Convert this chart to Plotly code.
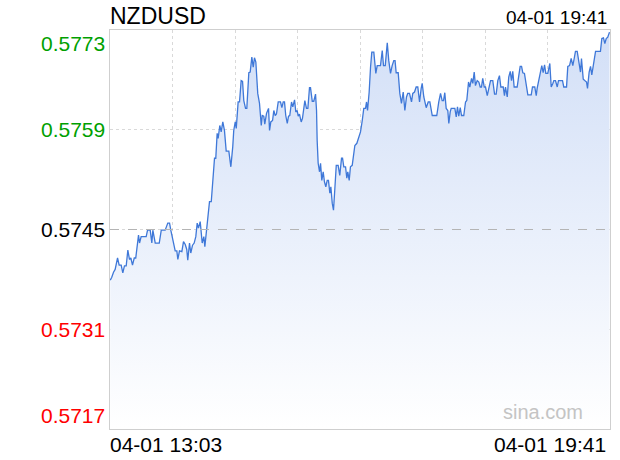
import numpy as np
import pandas as pd
import plotly.graph_objects as go

# sina-style intraday palette
LINE = "#3f78d8"
FILL_TOP = "#d2dff7"
GRID = "#d9d9d9"
BORDER = "#cfcfcf"
UP = "#00a000"
DOWN = "#ff0000"
FONT = "Liberation Sans, Arial, sans-serif"

symbol = "NZDUSD"
day = "04-01"
open_time = "13:03"
last_time = "19:41"
prev_close = 0.5745

y_ticks = [0.5773, 0.5759, 0.5745, 0.5731, 0.5717]
y_tick_text = ["0.5773", "0.5759", "0.5745", "0.5731", "0.5717"]

# minutes after 13:03
minutes = [
    0.2, 1.4, 2.8, 4.1, 6.0, 7.3, 8.9, 10.2, 11.5, 12.9,
    14.2, 15.5, 16.6, 17.9, 19.3, 20.5, 22.7, 23.5, 24.8, 28.8,
    29.9, 32.0, 33.3, 34.1, 36.0, 39.2, 40.8, 43.9, 46.0, 47.4,
    48.4, 50.0, 51.9, 53.2, 54.0, 55.3, 57.2, 58.5, 59.9, 61.1,
    61.9, 63.3, 64.3, 65.7, 67.0, 68.3, 69.4, 70.4, 71.8, 73.4,
    74.7, 75.5, 76.8, 78.2, 79.2, 80.6, 81.8, 83.2, 84.2, 85.3,
    86.1, 87.4, 88.5, 89.8, 91.1, 92.5, 94.6, 96.2, 97.7, 98.5,
    99.7, 100.5, 102.0, 103.1, 104.4, 105.5, 106.5, 107.9, 108.9, 110.5,
    111.6, 112.9, 114.0, 115.0, 116.1, 117.6, 119.0, 120.4, 121.2, 122.4,
    123.2, 124.6, 126.2, 127.0, 128.0, 129.4, 130.4, 131.5, 132.5, 133.9,
    135.7, 136.8, 137.9, 138.9, 139.9, 141.1, 142.1, 143.1, 144.5, 145.5,
    146.9, 147.9, 149.0, 149.8, 150.8, 152.2, 153.2, 154.3, 155.1, 156.4,
    157.5, 158.8, 159.6, 161.0, 162.2, 163.6, 164.4, 164.9, 165.7, 166.8,
    167.6, 168.6, 169.7, 170.7, 171.8, 172.9, 173.9, 175.0, 175.8, 176.9,
    177.9, 178.9, 180.1, 181.6, 182.9, 184.3, 185.1, 186.1, 187.5, 188.5,
    189.3, 190.4, 191.4, 192.8, 194.1, 194.9, 196.5, 197.8, 199.4, 200.8,
    202.0, 203.4, 204.2, 205.0, 206.3, 207.4, 208.4, 210.0, 211.6, 212.7,
    215.3, 216.7, 217.7, 219.1, 220.7, 221.9, 223.3, 224.6, 225.9, 226.9,
    227.8, 229.4, 230.7, 232.0, 233.4, 234.7, 236.0, 237.0, 238.4, 240.0,
    241.0, 242.4, 243.7, 245.0, 246.4, 247.7, 248.5, 249.8, 251.7, 253.3,
    254.6, 256.5, 260.1, 261.7, 263.1, 264.4, 265.5, 266.5, 267.6, 268.9,
    269.7, 270.8, 271.6, 274.5, 275.6, 276.6, 277.6, 278.8, 279.8, 281.6,
    283.0, 284.0, 285.4, 286.4, 287.8, 288.8, 289.9, 290.9, 292.3, 293.6,
    294.7, 295.7, 296.7, 297.9, 298.9, 300.3, 301.5, 302.9, 304.7, 306.1,
    307.4, 308.7, 310.0, 311.1, 313.0, 314.0, 314.8, 316.2, 317.4, 318.6,
    319.6, 320.6, 321.7, 324.1, 325.4, 326.5, 327.6, 328.6, 329.9, 331.0,
    332.6, 335.3, 336.3, 338.1, 339.3, 340.0, 341.3, 342.7, 343.7, 344.8,
    345.9, 346.9, 348.5, 350.1, 351.2, 352.5, 353.3, 354.6, 356.0, 357.0,
    360.2, 361.2, 363.4, 364.4, 365.8, 367.1, 368.4, 369.5, 370.5, 371.9,
    373.2, 374.5, 375.3, 376.7, 377.9, 379.3, 380.1, 381.4, 382.5, 383.5,
    384.6, 386.5, 390.4, 391.5, 392.8, 393.9, 395.0, 396.2, 397.6,
]

price = [
    0.57379, 0.57383, 0.57390, 0.57394, 0.57410, 0.57400, 0.57400, 0.57389, 0.57399, 0.57399,
    0.57421, 0.57408, 0.57410, 0.57400, 0.57410, 0.57410, 0.57442, 0.57431, 0.57440, 0.57440,
    0.57449, 0.57449, 0.57431, 0.57449, 0.57431, 0.57431, 0.57449, 0.57449, 0.57459, 0.57459,
    0.57449, 0.57435, 0.57420, 0.57420, 0.57408, 0.57420, 0.57419, 0.57433, 0.57429, 0.57422,
    0.57407, 0.57431, 0.57417, 0.57428, 0.57431, 0.57440, 0.57459, 0.57452, 0.57461, 0.57431,
    0.57440, 0.57426, 0.57449, 0.57477, 0.57489, 0.57489, 0.57515, 0.57550, 0.57550, 0.57585,
    0.57578, 0.57596, 0.57587, 0.57601, 0.57589, 0.57560, 0.57560, 0.57538, 0.57566, 0.57589,
    0.57601, 0.57592, 0.57629, 0.57629, 0.57659, 0.57658, 0.57631, 0.57620, 0.57620, 0.57670,
    0.57671, 0.57692, 0.57678, 0.57691, 0.57685, 0.57641, 0.57627, 0.57596, 0.57610, 0.57609,
    0.57598, 0.57613, 0.57620, 0.57589, 0.57601, 0.57603, 0.57617, 0.57610, 0.57612, 0.57629,
    0.57629, 0.57621, 0.57629, 0.57629, 0.57610, 0.57599, 0.57609, 0.57610, 0.57629, 0.57622,
    0.57632, 0.57615, 0.57617, 0.57609, 0.57612, 0.57601, 0.57606, 0.57622, 0.57631, 0.57620,
    0.57620, 0.57649, 0.57649, 0.57630, 0.57630, 0.57640, 0.57617, 0.57575, 0.57543, 0.57531,
    0.57543, 0.57519, 0.57531, 0.57517, 0.57510, 0.57519, 0.57519, 0.57501, 0.57510, 0.57487,
    0.57477, 0.57505, 0.57540, 0.57540, 0.57526, 0.57550, 0.57550, 0.57538, 0.57538, 0.57522,
    0.57531, 0.57519, 0.57538, 0.57540, 0.57559, 0.57568, 0.57571, 0.57580, 0.57587, 0.57603,
    0.57620, 0.57620, 0.57629, 0.57617, 0.57643, 0.57678, 0.57699, 0.57699, 0.57669, 0.57680,
    0.57680, 0.57701, 0.57680, 0.57680, 0.57712, 0.57687, 0.57669, 0.57680, 0.57687, 0.57687,
    0.57670, 0.57670, 0.57641, 0.57627, 0.57643, 0.57617, 0.57636, 0.57641, 0.57641, 0.57629,
    0.57641, 0.57643, 0.57650, 0.57650, 0.57629, 0.57648, 0.57655, 0.57636, 0.57621, 0.57629,
    0.57629, 0.57610, 0.57610, 0.57629, 0.57641, 0.57631, 0.57631, 0.57642, 0.57620, 0.57617,
    0.57599, 0.57615, 0.57620, 0.57620, 0.57608, 0.57622, 0.57609, 0.57621, 0.57610, 0.57610,
    0.57629, 0.57631, 0.57657, 0.57650, 0.57662, 0.57655, 0.57671, 0.57652, 0.57659, 0.57657,
    0.57650, 0.57650, 0.57662, 0.57650, 0.57650, 0.57638, 0.57650, 0.57659, 0.57659, 0.57640,
    0.57640, 0.57659, 0.57666, 0.57650, 0.57650, 0.57638, 0.57650, 0.57636, 0.57664, 0.57672,
    0.57659, 0.57672, 0.57650, 0.57650, 0.57666, 0.57679, 0.57679, 0.57670, 0.57669, 0.57659,
    0.57639, 0.57639, 0.57650, 0.57650, 0.57638, 0.57648, 0.57658, 0.57671, 0.57680, 0.57670,
    0.57681, 0.57669, 0.57669, 0.57683, 0.57650, 0.57655, 0.57659, 0.57659, 0.57650, 0.57659,
    0.57659, 0.57650, 0.57650, 0.57679, 0.57680, 0.57690, 0.57680, 0.57690, 0.57700, 0.57700,
    0.57686, 0.57671, 0.57690, 0.57661, 0.57659, 0.57657, 0.57648, 0.57671, 0.57679, 0.57667,
    0.57679, 0.57700, 0.57700, 0.57718, 0.57719, 0.57711, 0.57718, 0.57720, 0.57727,
]

start = pd.Timestamp(f"2025-{day} {open_time}")
end = pd.Timestamp(f"2025-{day} {last_time}")
times = start + pd.to_timedelta(minutes, unit="min")
y_min, y_max = min(y_ticks), max(y_ticks)

fig = go.Figure()
fig.add_trace(go.Scatter(
    x=times, y=price, mode="lines",
    line=dict(color=LINE, width=1.3),
    fill="tozeroy",
    fillgradient=dict(type="vertical", start=y_min, stop=y_max,
                      colorscale=[[0, "rgba(255,255,255,1)"], [1, FILL_TOP]]),
    hoverinfo="skip", showlegend=False,
))

# previous close reference line
fig.add_shape(type="line", xref="paper", x0=0, x1=1, yref="y", y0=prev_close, y1=prev_close,
              line=dict(color="#b4b4b4", width=1, dash="dash"))

# y labels: green above prev close, red below, first/last pulled inside the frame
for val, txt in zip(y_ticks, y_tick_text):
    color = UP if val > prev_close else DOWN if val < prev_close else "#000000"
    anchor = "top" if val == y_max else "bottom" if val == y_min else "middle"
    fig.add_annotation(x=0, xref="paper", y=val, yref="y", text=txt, showarrow=False,
                       xanchor="right", yanchor=anchor, xshift=-3,
                       font=dict(family=FONT, size=21, color=color))

fig.add_annotation(x=0, xref="paper", y=1, yref="paper", text=symbol, showarrow=False,
                   xanchor="left", yanchor="bottom", xshift=-2, yshift=-1,
                   font=dict(family=FONT, size=23, color="#000000"))
fig.add_annotation(x=1, xref="paper", y=1, yref="paper", text=f"{day} {last_time}", showarrow=False,
                   xanchor="right", yanchor="bottom", xshift=-1, yshift=0,
                   font=dict(family=FONT, size=19, color="#000000"))
fig.add_annotation(x=0, xref="paper", y=0, yref="paper", text=f"{day} {open_time}", showarrow=False,
                   xanchor="left", yanchor="top", xshift=-2, yshift=-2,
                   font=dict(family=FONT, size=21, color="#000000"))
fig.add_annotation(x=1, xref="paper", y=0, yref="paper", text=f"{day} {last_time}", showarrow=False,
                   xanchor="right", yanchor="top", xshift=-2, yshift=-2,
                   font=dict(family=FONT, size=21, color="#000000"))
fig.add_annotation(x=0.95, xref="paper", y=0, yref="paper", text="sina.com", showarrow=False,
                   xanchor="right", yanchor="bottom", yshift=4,
                   font=dict(family=FONT, size=20, color="#c4c4c4"))

grid_x = pd.date_range(start, end, periods=9)[1:-1]

fig.update_layout(
    width=620, height=460,
    margin=dict(l=110, r=10, t=30, b=31),
    paper_bgcolor="white", plot_bgcolor="white",
    font=dict(family=FONT),
)
fig.update_xaxes(range=[start, end], tickvals=grid_x, showticklabels=False, ticks="",
                 showgrid=True, gridcolor=GRID, griddash="dot", gridwidth=1,
                 showline=True, mirror=True, linecolor=BORDER, linewidth=1, zeroline=False)
fig.update_yaxes(range=[y_min, y_max], tickvals=y_ticks, showticklabels=False, ticks="",
                 showgrid=True, gridcolor=GRID, griddash="dot", gridwidth=1,
                 showline=True, mirror=True, linecolor=BORDER, linewidth=1, zeroline=False)

# drop the default 8px page margin so the figure fills the window exactly
fig.write_html("out.html", config=dict(displayModeBar=False),
               post_script="document.body.style.margin = '0';")
